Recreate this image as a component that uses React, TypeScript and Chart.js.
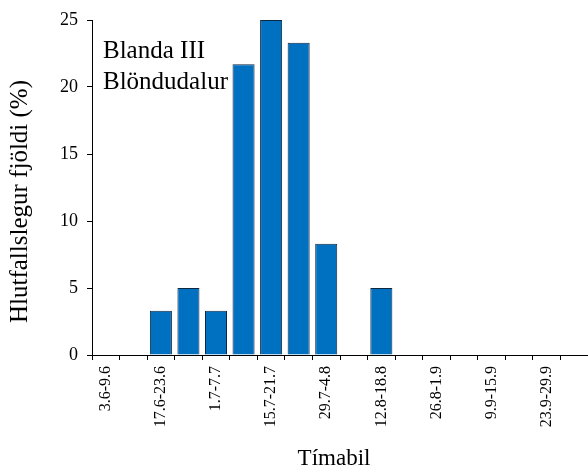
import React, { useEffect, useRef } from "react";
import { Chart, registerables } from "chart.js";

Chart.register(...registerables);

const categories = [
  "3.6-9.6", "10.6-16.6", "17.6-23.6", "24.6-30.6", "1.7-7.7", "8.7-14.7",
  "15.7-21.7", "22.7-28.7", "29.7-4.8", "5.8-11.8", "12.8-18.8", "19.8-25.8",
  "26.8-1.9", "2.9-8.9", "9.9-15.9", "16.9-22.9", "23.9-29.9", "30.9-6.10",
];
const values = [0, 0, 3.3, 5, 3.3, 21.7, 25, 23.3, 8.3, 0, 5, 0, 0, 0, 0, 0, 0, 0];
const yTicks = [0, 5, 10, 15, 20, 25];
const annotationLines = ["Blanda III", "Blöndudalur"];
const xTitle = "Tímabil";
const yTitle = "Hlutfallslegur fjöldi (%)";

const FONT = "'Liberation Serif', 'Times New Roman', serif";

const textPlugin = {
  id: "annotText",
  afterDraw(chart: any) {
    const ctx = chart.ctx;
    const area = chart.chartArea;
    ctx.save();
    ctx.fillStyle = "#000";
    // annotation
    ctx.font = `25px ${FONT}`;
    ctx.textAlign = "left";
    ctx.textBaseline = "alphabetic";
    const x = area.left + 11;
    annotationLines.forEach((t, i) => {
      ctx.fillText(t, x, area.top + 38 + i * 31);
    });
    // x axis title
    ctx.font = `23px ${FONT}`;
    ctx.textAlign = "center";
    ctx.textBaseline = "middle";
    ctx.fillText(xTitle, (area.left + area.right) / 2 - 6, chart.height - 14);
    // y axis title
    ctx.font = `25px ${FONT}`;
    ctx.translate(20, (area.top + area.bottom) / 2 + 14);
    ctx.rotate(-Math.PI / 2);
    ctx.fillText(yTitle, 0, 0);
    ctx.restore();
  },
};

export default function App() {
  const ref = useRef<HTMLCanvasElement>(null);
  useEffect(() => {
    if (!ref.current) return;
    const chart = new Chart(ref.current, {
      type: "bar",
      data: {
        labels: categories,
        datasets: [
          {
            data: values,
            backgroundColor: "#0070C0",
            borderColor: "#0F2740",
            borderWidth: 1,
            barPercentage: 0.8,
            categoryPercentage: 1,
          },
        ],
      },
      options: {
        responsive: false,
        animation: false,
        layout: { padding: { top: 20, right: 0, left: 0, bottom: 0 } },
        plugins: { legend: { display: false }, tooltip: { enabled: false } },
        scales: {
          x: {
            offset: true,
            grid: {
              offset: true,
              drawOnChartArea: false,
              drawTicks: true,
              tickLength: 5,
              color: "#000",
            },
            border: { color: "#000", width: 1 },
            ticks: {
              autoSkip: false,
              maxRotation: 90,
              minRotation: 90,
              padding: 6,
              color: "#000",
              font: { family: FONT, size: 16 },
              callback: (_v: any, i: number) => (i % 2 === 0 ? categories[i] : ""),
            },
            title: { display: false },
            afterFit: (s: any) => {
              s.height = 118;
              s.paddingLeft = 0;
              s.paddingRight = 0;
            },
          },
          y: {
            min: 0,
            max: 25,
            grid: {
              drawOnChartArea: false,
              drawTicks: true,
              tickLength: 5,
              color: "#000",
            },
            border: { color: "#000", width: 1 },
            afterBuildTicks: (s: any) => {
              s.ticks = yTicks.map((v) => ({ value: v }));
            },
            ticks: {
              padding: 9,
              color: "#000",
              font: { family: FONT, size: 18 },
            },
            title: { display: false },
            afterFit: (s: any) => {
              s.width = 92;
              s.paddingTop = 0;
              s.paddingBottom = 0;
            },
          },
        },
      },
      plugins: [textPlugin],
    });
    return () => chart.destroy();
  }, []);
  return (
    <canvas
      ref={ref}
      width={588}
      height={473}
      style={{ position: "fixed", left: 0, top: 0, display: "block", width: 588, height: 473 }}
    />
  );
}
